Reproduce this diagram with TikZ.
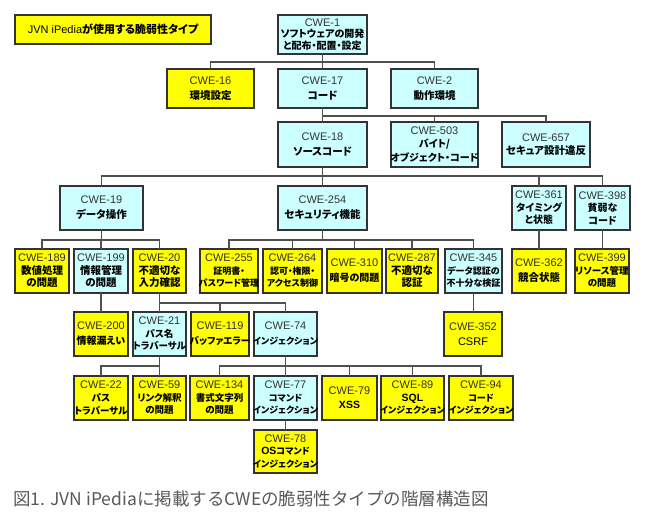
\documentclass[tikz,border=0pt]{standalone}
\usepackage{fontspec}
\setmainfont{Liberation Sans}
\newfontfamily\jpf[RawFeature=+palt]{Noto Sans CJK JP}
\newfontfamily\capf{Noto Sans CJK JP}
\definecolor{yel}{HTML}{FFFF00}
\definecolor{cya}{HTML}{CCFFFF}
\definecolor{boxc}{HTML}{333333}
\definecolor{linec}{HTML}{505050}
\definecolor{numc}{HTML}{333333}
\definecolor{capc}{HTML}{595959}
\newcommand{\cw}[1]{{\rmfamily\mdseries\fontsize{11}{12}\selectfont\color{numc}#1}}
\newcommand{\cwb}[1]{{\rmfamily\bfseries\fontsize{10.5}{12}\selectfont #1}}
\newcommand{\jfs}[2]{\jpf\bfseries\fontsize{#1}{#2}\selectfont}
\tikzset{
  box/.style={draw=boxc, line width=1.1pt, inner sep=0pt, outer sep=0pt},
  yb/.style={box, fill=yel},
  cb/.style={box, fill=cya},
  txt/.style={inner sep=0pt, align=center, font=\jfs{10.5}{12.5}},
  jf/.style 2 args={font=\jfs{#1}{#2}},
  lat/.style 2 args={font=\rmfamily\fontsize{#1}{#2}\selectfont},
  conn/.style={draw=linec, line width=1.4pt},
}
% \bx{name}{box style}{text style}{cx}{cy}{w}{h}{text}
\newcommand{\bx}[8]{%
  \node[#2, minimum width=#6pt, minimum height=#7pt] (#1) at (#4,#5) {};
  \node[txt, #3] (#1t) at (#1.center) {#8};
}
\begin{document}
\begin{tikzpicture}[x=1pt,y=-1pt]
\path[use as bounding box, fill=white] (0,0) rectangle (648,517);
% bus levels
\coordinate (b1) at (0,62);
\coordinate (b2) at (0,116);
\coordinate (b3) at (0,176);
\coordinate (b4) at (0,240);
\coordinate (b5) at (0,303);
\coordinate (b6) at (0,366);
% legend
\bx{leg}{yb}{jf={11}{13}}{113}{29.5}{196}{29}{{\rmfamily\mdseries\fontsize{11}{13}\selectfont JVN iPedia}が使用する脆弱性タイプ}
% level 0-1
\bx{c1}{cb}{jf={10}{11.5}}{322.5}{34.5}{89}{39}{\cw{CWE-1}\\ソフトウェアの開発\\と配布・配置・設定}
\bx{c16}{yb}{jf={10.5}{15}}{210.5}{88.5}{87}{39}{\cw{CWE-16}\\環境設定}
\bx{c17}{cb}{jf={10.5}{15}}{322.5}{88.5}{89}{39}{\cw{CWE-17}\\コード}
\bx{c2}{cb}{jf={10.5}{15}}{434.5}{88.5}{87}{39}{\cw{CWE-2}\\動作環境}
% level 2
\bx{c18}{cb}{jf={10.5}{15}}{322.5}{144.5}{89}{45}{\cw{CWE-18}\\ソースコード}
\bx{c503}{cb}{jf={10}{13.5}}{434.5}{144.5}{87}{45}{\cw{CWE-503}\\バイト/\\オブジェクト・コード}
\bx{c657}{cb}{jf={10.5}{13.5}}{546}{144.5}{88}{45}{\cw{CWE-657}\\セキュア設計違反}
% level 3
\bx{c19}{cb}{jf={10.5}{15}}{101.5}{208}{83}{44}{\cw{CWE-19}\\データ操作}
\bx{c254}{cb}{jf={10.5}{15}}{322.5}{208}{89}{44}{\cw{CWE-254}\\セキュリティ機能}
\bx{c361}{cb}{jf={10}{12.5}}{539}{208}{54}{44}{\cw{CWE-361}\\タイミング\\と状態}
\bx{c398}{cb}{jf={10}{12.5}}{602.5}{208}{55}{44}{\cw{CWE-398}\\貧弱な\\コード}
% level 4
\bx{c189}{yb}{}{42}{271}{54}{44}{\cw{CWE-189}\\数値処理\\の問題}
\bx{c199}{cb}{}{101}{271}{54}{44}{\cw{CWE-199}\\情報管理\\の問題}
\bx{c20}{yb}{}{159.5}{271}{53}{44}{\cw{CWE-20}\\不適切な\\入力確認}
\bx{c255}{yb}{jf={9}{12.5}}{229}{271}{58}{44}{\cw{CWE-255}\\証明書・\\パスワード管理}
\bx{c264}{yb}{jf={9}{12.5}}{292.5}{271}{59}{44}{\cw{CWE-264}\\認可・権限・\\アクセス制御}
\bx{c310}{yb}{jf={10}{15}}{354.5}{271}{55}{44}{\cw{CWE-310}\\暗号の問題}
\bx{c287}{yb}{}{412}{271}{52}{44}{\cw{CWE-287}\\不適切な\\認証}
\bx{c345}{cb}{jf={9}{12.5}}{473.5}{271}{57}{44}{\cw{CWE-345}\\データ認証の\\不十分な検証}
\bx{c362}{yb}{jf={10.5}{15}}{539}{271}{54}{44}{\cw{CWE-362}\\競合状態}
\bx{c399}{yb}{jf={9.5}{12.5}}{602}{271}{54}{44}{\cw{CWE-399}\\リソース管理\\の問題}
% level 5
\bx{c200}{yb}{jf={10}{15}}{101}{334}{54}{44}{\cw{CWE-200}\\情報漏えい}
\bx{c21}{cb}{jf={9.5}{12.5}}{159.5}{334}{53}{44}{\cw{CWE-21}\\パス名\\トラバーサル}
\bx{c119}{yb}{jf={9.5}{15}}{220}{334}{58}{44}{\cw{CWE-119}\\バッファエラー}
\bx{c74}{cb}{jf={9}{15}}{285.5}{334}{63}{44}{\cw{CWE-74}\\インジェクション}
\bx{c352}{yb}{lat={11}{15}}{473}{334}{58}{44}{\cw{CWE-352}\\CSRF}
% level 6
\bx{c22}{yb}{jf={9.5}{12.5}}{101}{398}{54}{44}{\cw{CWE-22}\\パス\\トラバーサル}
\bx{c59}{yb}{jf={9.5}{12.5}}{159.5}{398}{53}{44}{\cw{CWE-59}\\リンク解釈\\の問題}
\bx{c134}{yb}{jf={9.5}{12.5}}{219.5}{398}{59}{44}{\cw{CWE-134}\\書式文字列\\の問題}
\bx{c77}{cb}{jf={9}{12.5}}{285.5}{398}{63}{44}{\cw{CWE-77}\\コマンド\\インジェクション}
\bx{c79}{yb}{lat={11}{14}}{349.5}{398}{55}{44}{\cw{CWE-79}\\\cwb{XSS}}
\bx{c89}{yb}{jf={9}{12.5}}{412.5}{398}{63}{44}{\cw{CWE-89}\\\cwb{SQL}\\インジェクション}
\bx{c94}{yb}{jf={9}{12.5}}{481}{398}{64}{44}{\cw{CWE-94}\\コード\\インジェクション}
% level 7
\bx{c78}{yb}{jf={9}{12.5}}{285.5}{451.5}{63}{43}{\cw{CWE-78}\\\cwb{OS}コマンド\\インジェクション}
% connectors
\foreach \c in {c16,c17,c2} \draw[conn] (c1.south) -- (c1.south |- b1) -| (\c.north);
\foreach \c in {c18,c503,c657} \draw[conn] (c17.south) -- (c17.south |- b2) -| (\c.north);
\foreach \c in {c19,c254,c361,c398} \draw[conn] (c18.south) -- (c18.south |- b3) -| (\c.north);
\foreach \c in {c189,c199,c20} \draw[conn] (c19.south) -- (c19.south |- b4) -| (\c.north);
\foreach \c in {c255,c264,c310,c287,c345} \draw[conn] (c254.south) -- (c254.south |- b4) -| (\c.north);
\foreach \c in {c21,c119,c74} \draw[conn] (c20.south) -- (c20.south |- b5) -| (\c.north);
\foreach \c in {c22,c59} \draw[conn] (c21.south) -- (c21.south |- b6) -| (\c.north);
\foreach \c in {c134,c77,c79,c89,c94} \draw[conn] (c74.south) -- (c74.south |- b6) -| (\c.north);
\draw[conn] (c199.south) -- (c199.south |- c200.north);
\draw[conn] (c345.south) -- (c345.south |- c352.north);
\draw[conn] (c361.south) -- (c361.south |- c362.north);
\draw[conn] (c398.south) -- (c398.south |- c399.north);
\draw[conn] (c77.south) -- (c77.south |- c78.north);
% caption
\node[anchor=base west, inner sep=0pt, text=capc, font=\capf\fontsize{17.5}{20}\selectfont] (cap) at (13,505)
  {図1. JVN iPediaに掲載するCWEの脆弱性タイプの階層構造図};
\end{tikzpicture}
\end{document}
